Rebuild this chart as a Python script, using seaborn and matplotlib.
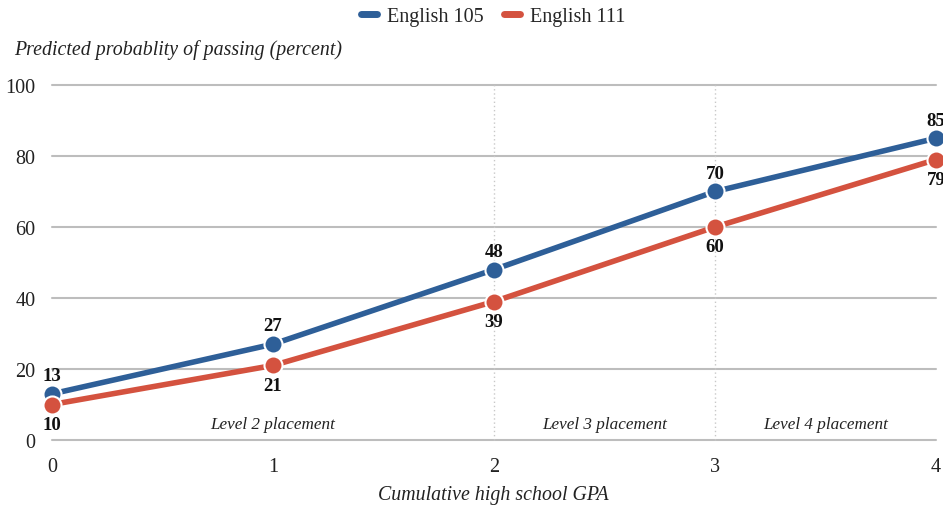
import numpy as np
import pandas as pd
import matplotlib.pyplot as plt
import seaborn as sns

# data
gpa = [0, 1, 2, 3, 4]
eng105 = [13, 27, 48, 70, 85]
eng111 = [10, 21, 39, 60, 79]
series_names = ["English 105", "English 111"]
level_labels = ["Level 2 placement", "Level 3 placement", "Level 4 placement"]
level_x = [1.0, 2.5, 3.5]
level_cuts = [2, 3]

blue = "#2e5f98"
red = "#d4523f"

df = pd.DataFrame({
    "gpa": gpa * 2,
    "pct": eng105 + eng111,
    "course": [series_names[0]] * len(gpa) + [series_names[1]] * len(gpa),
})

sns.set_theme(style="white")
plt.rcParams["font.family"] = ["Liberation Serif", "DejaVu Serif"]

fig = plt.figure(figsize=(9.43, 5.1), dpi=100)
ax = fig.add_axes([52 / 943, 1 - 441 / 510, (936 - 52) / 943, (441 - 86) / 510])

for y in range(0, 101, 20):
    ax.axhline(y, color="#bdbdbd", lw=1.5, zorder=0, clip_on=False)
for x in level_cuts:
    ax.axvline(x, color="#c8c8c8", lw=1, ls=(0, (1, 2)), zorder=0)

sns.lineplot(data=df, x="gpa", y="pct", hue="course",
             palette=[blue, red], marker="o", markersize=13,
             markeredgecolor="white", markeredgewidth=1.5,
             linewidth=4, legend=False, ax=ax, zorder=3)
for line in ax.lines:
    line.set_clip_on(False)

for x, v in zip(gpa, eng105):
    ax.annotate(str(v), (x, v), xytext=(0, 7), textcoords="offset points",
                ha="center", va="bottom", fontsize=13.5, fontweight="bold",
                color="#111111", annotation_clip=False)
for x, v in zip(gpa, eng111):
    ax.annotate(str(v), (x, v), xytext=(0, -8), textcoords="offset points",
                ha="center", va="top", fontsize=13.5, fontweight="bold",
                color="#111111", annotation_clip=False)

for x, t in zip(level_x, level_labels):
    ax.text(x, 4.5, t, ha="center", va="center", fontsize=12.3,
            style="italic", color="#222222")

ax.set_xlim(0, 4)
ax.set_ylim(0, 100)
ax.set_xticks(gpa)
ax.set_yticks(range(0, 101, 20))
ax.tick_params(axis="both", length=0, labelsize=14.5, colors="#222222")
ax.tick_params(axis="y", pad=12)
ax.tick_params(axis="x", pad=12)
ax.set_xlabel("")
ax.set_ylabel("")
sns.despine(ax=ax, left=True, bottom=True)

fig.text(493 / 943, 1 - 496 / 510, "Cumulative high school GPA", ha="center",
         va="center", fontsize=14.3, style="italic", color="#222222")
fig.text(14 / 943, 1 - 50 / 510, "Predicted probablity of passing (percent)",
         ha="left", va="center", fontsize=14.3, style="italic", color="#222222")

handles = [plt.Line2D([], [], color=c, lw=5, solid_capstyle="round") for c in (blue, red)]
fig.legend(handles, series_names, loc="center", bbox_to_anchor=(493 / 943, 1 - 17 / 510),
           ncol=2, frameon=False, fontsize=14.5, handlelength=0.8, handletextpad=0.5,
           columnspacing=1.0)

fig.savefig("out.png", dpi=100)
